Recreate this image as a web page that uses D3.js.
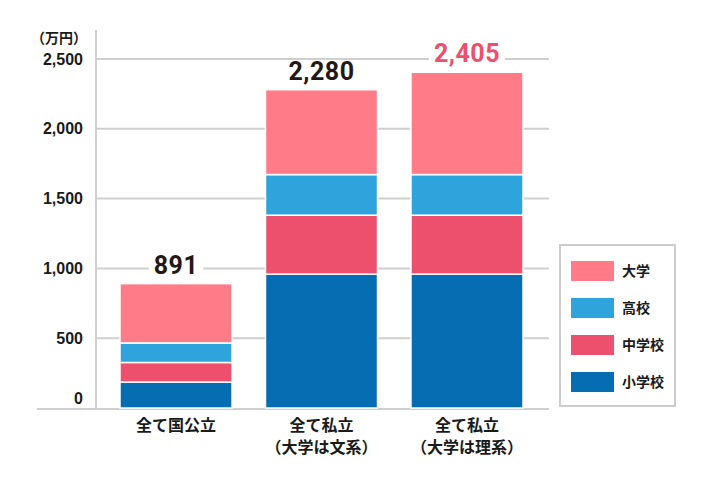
<!DOCTYPE html>
<html><head><meta charset="utf-8">
<script src="https://cdn.jsdelivr.net/npm/d3@7"></script>
<style>
html,body{margin:0;padding:0;background:#fff;}
svg{display:block;}
</style></head>
<body>
<svg id="chart" width="711" height="501"></svg>
<script>
const categories = ["全て国公立", "全て私立\n（大学は文系）", "全て私立\n（大学は理系）"];
const seriesNames = ["小学校", "中学校", "高校", "大学"];
const shogakko = [186, 959, 959];
const chugakko = [140, 422, 422];
const koko = [140, 291, 291];
const daigaku = [425, 608, 733];
const totals = ["891", "2,280", "2,405"];
const yTicks = [0, 500, 1000, 1500, 2000, 2500];
const colors = ["#066db3", "#ed506d", "#2fa4dc", "#ff7b88"];
const legendOrder = ["大学", "高校", "中学校", "小学校"];

const svg = d3.select("#chart");
const numFont = "'Liberation Sans', Arial, sans-serif";
const jpFont = "'Noto Sans CJK JP', sans-serif";

const x = d3.scaleBand().domain(categories).range([120, 523]).paddingInner(0.23).paddingOuter(0);
const y = d3.scaleLinear().domain([0, 2500]).range([408, 59]);

// gridlines
svg.append("g").selectAll("line").data(yTicks.filter(d => d > 0)).join("line")
  .attr("x1", 96).attr("x2", 549)
  .attr("y1", d => y(d)).attr("y2", d => y(d))
  .attr("stroke", "#cfcfcf").attr("stroke-width", 2);

// baseline
svg.append("line").attr("x1", 37).attr("x2", 549).attr("y1", 409).attr("y2", 409)
  .attr("stroke", "#cfcfcf").attr("stroke-width", 2);
// y axis line
svg.append("line").attr("x1", 96).attr("x2", 96).attr("y1", 30).attr("y2", 409)
  .attr("stroke", "#cfcfcf").attr("stroke-width", 2);

// tick labels
svg.append("g").selectAll("text").data(yTicks).join("text")
  .attr("x", 83).attr("y", d => y(d) + (d === 0 ? -10 : 0))
  .attr("dy", "0.35em")
  .attr("text-anchor", "end")
  .attr("font-family", numFont).attr("font-weight", "bold").attr("font-size", 16)
  .attr("fill", "#1a1a1a")
  .text(d => d3.format(",")(d));

svg.append("text").attr("x", 87).attr("y", 43).attr("text-anchor", "end")
  .attr("font-family", jpFont).attr("font-weight", "bold").attr("font-size", 14)
  .attr("fill", "#1a1a1a").text("（万円）");

// stacked data
const rows = categories.map((c, i) => ({cat: c, "小学校": shogakko[i], "中学校": chugakko[i], "高校": koko[i], "大学": daigaku[i]}));
const stack = d3.stack().keys(seriesNames)(rows);
const color = d3.scaleOrdinal().domain(seriesNames).range(colors);

svg.append("g").selectAll("g").data(stack).join("g")
  .attr("fill", d => color(d.key))
  .selectAll("rect").data(d => d).join("rect")
  .attr("x", d => x(d.data.cat))
  .attr("width", x.bandwidth())
  .attr("y", d => y(d[1]))
  .attr("height", d => y(d[0]) - y(d[1]))
  .attr("stroke", "#fff").attr("stroke-width", 1.5);

// totals labels
const tot = svg.append("g");
categories.forEach((c, i) => {
  const top = y(stack[3][i][1]);
  const cx = x(c) + x.bandwidth() / 2;
  const g = tot.append("g");
  const t = g.append("text").attr("x", cx).attr("y", top - 10)
    .attr("text-anchor", "middle")
    .attr("font-family", "Roboto, sans-serif").attr("font-weight", "bold").attr("font-size", 25)
    .attr("letter-spacing", 0.5)
    .attr("fill", i === 2 ? "#ee4f6e" : "#231815")
    .text(totals[i]);
  const bb = t.node().getBBox();
  g.insert("rect", "text").attr("x", bb.x - 5).attr("y", bb.y + 4).attr("width", bb.width + 10).attr("height", bb.height - 6).attr("fill", "#fff");
});

// category labels
svg.append("g").selectAll("text").data(categories).join("text")
  .attr("x", d => x(d) + x.bandwidth() / 2)
  .attr("y", 431)
  .attr("text-anchor", "middle")
  .attr("font-family", jpFont).attr("font-weight", "bold").attr("font-size", 16)
  .attr("fill", "#1a1a1a")
  .each(function(d) {
    const lines = d.split("\n");
    d3.select(this).selectAll("tspan").data(lines).join("tspan")
      .attr("x", x(d) + x.bandwidth() / 2)
      .attr("dy", (l, j) => j === 0 ? 0 : 22)
      .text(l => l);
  });

// legend
const lg = svg.append("g");
lg.append("rect").attr("x", 560).attr("y", 245).attr("width", 115).attr("height", 161)
  .attr("fill", "#fff").attr("stroke", "#cccccc").attr("stroke-width", 2);
legendOrder.forEach((k, i) => {
  const cy = 271 + i * 37;
  lg.append("rect").attr("x", 571).attr("y", cy - 10).attr("width", 43).attr("height", 20).attr("fill", color(k));
  lg.append("text").attr("x", 622).attr("y", cy).attr("dy", "0.35em")
    .attr("font-family", jpFont).attr("font-weight", "bold").attr("font-size", 14)
    .attr("fill", "#1a1a1a").text(k);
});
</script>
</body></html>
